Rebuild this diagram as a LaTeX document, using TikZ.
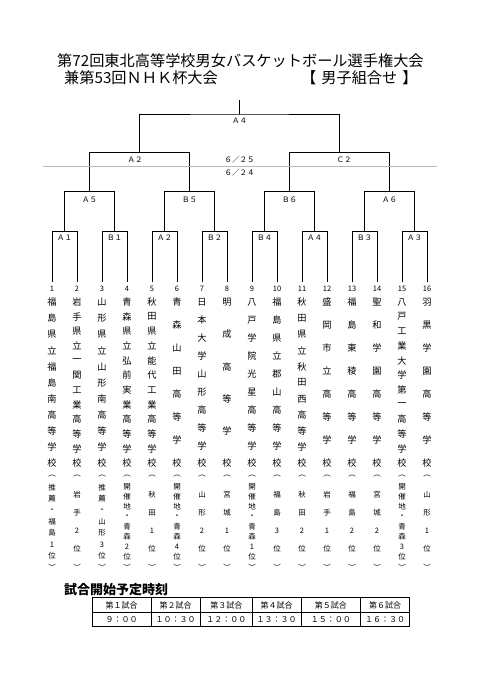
\documentclass[tikz,border=0pt]{standalone}
\usepackage{fontspec}
\setmainfont{Noto Sans CJK JP}
\usepackage{tikz}
\usetikzlibrary{positioning, calc}

% one vertical column of characters, spread from ytop to ybot
\newcommand{\vcol}[6]{%
  \foreach \ch [count=\k] in {#6} {\xdef\vcount{\k}}
  \foreach \ch [count=\k] in {#6} {
    \pgfmathsetmacro\vy{#4+(#5-#4)*(\k-1)/(\vcount-1)}
    \node[#1] (#2-\k) at (#3,\vy) {\ch};
  }
}
% number, school name and seeding note of one team
\newcommand{\team}[3]{%
  \pgfmathsetmacro\tx{52+25*(#1-1)}
  \node[numlbl] (t#1) at (\tx,289) {#1};
  \vcol{namechar}{t#1n}{\tx}{302}{463.5}{#2}
  \vcol{notechar}{t#1p}{\tx}{476.5}{567}{#3}
}

\begin{document}
\begin{tikzpicture}[x=1pt, y=-1pt, every node/.style={inner sep=0pt},
    titlefont/.style={font=\fontsize{15.2}{16}\selectfont},
    namechar/.style={font=\fontsize{9.2}{10}\selectfont},
    notechar/.style={font=\fontsize{7.5}{8}\selectfont},
    numlbl/.style={font=\fontsize{7.5}{8}\selectfont, outer sep=4.5pt},
    matchlbl/.style={font=\fontsize{7.5}{8}\selectfont},
    bracket/.style={line width=0.9pt},
    cell/.style={draw, line width=0.8pt, minimum height=14.5pt, font=\fontsize{8}{9}\selectfont}]
  \useasboundingbox (0,0) rectangle (481,680);

  % title
  \node[titlefont, anchor=west] (title1) at (57,60.7) {第72回東北高等学校男女バスケットボール選手権大会};
  \node[titlefont, anchor=west] (title2) at (64,78) {兼第53回ＮＨＫ杯大会};
  \node[titlefont, anchor=west] (title3) at (301,78) {【\hspace{5pt}男子組合せ\hspace{5pt}】};

  % teams
  \team{1}{福,島,県,立,福,島,南,高,等,学,校}{︵,推,薦,・,福,島,1,位,︶}
  \team{2}{岩,手,県,立,一,関,工,業,高,等,学,校}{︵,岩,手,2,位,︶}
  \team{3}{山,形,県,立,山,形,南,高,等,学,校}{︵,推,薦,・,山,形,3,位,︶}
  \team{4}{青,森,県,立,弘,前,実,業,高,等,学,校}{︵,開,催,地,・,青,森,2,位,︶}
  \team{5}{秋,田,県,立,能,代,工,業,高,等,学,校}{︵,秋,田,1,位,︶}
  \team{6}{青,森,山,田,高,等,学,校}{︵,開,催,地,・,青,森,4,位,︶}
  \team{7}{日,本,大,学,山,形,高,等,学,校}{︵,山,形,2,位,︶}
  \team{8}{明,成,高,等,学,校}{︵,宮,城,1,位,︶}
  \team{9}{八,戸,学,院,光,星,高,等,学,校}{︵,開,催,地,・,青,森,1,位,︶}
  \team{10}{福,島,県,立,郡,山,高,等,学,校}{︵,福,島,3,位,︶}
  \team{11}{秋,田,県,立,秋,田,西,高,等,学,校}{︵,秋,田,2,位,︶}
  \team{12}{盛,岡,市,立,高,等,学,校}{︵,岩,手,1,位,︶}
  \team{13}{福,島,東,稜,高,等,学,校}{︵,福,島,2,位,︶}
  \team{14}{聖,和,学,園,高,等,学,校}{︵,宮,城,2,位,︶}
  \team{15}{八,戸,工,業,大,学,第,一,高,等,学,校}{︵,開,催,地,・,青,森,3,位,︶}
  \team{16}{羽,黒,学,園,高,等,学,校}{︵,山,形,1,位,︶}

  % bracket joints
  \foreach \i in {1,...,8} \coordinate (r1-\i) at ({64.5+50*(\i-1)},231.7);
  \foreach \i in {1,...,4} \coordinate (r2-\i) at ({89.5+100*(\i-1)},191.7);
  \foreach \i in {1,2} \coordinate (r3-\i) at ({139.5+200*(\i-1)},152.7);
  \coordinate (r4) at (239.5,114);
  \coordinate (top) at (239.5,100);

  \foreach \i [evaluate=\i as \a using int(2*\i-1), evaluate=\i as \b using int(2*\i)] in {1,...,8}
    \draw[bracket] (t\a) |- (r1-\i) -| (t\b);
  \foreach \i [evaluate=\i as \a using int(2*\i-1), evaluate=\i as \b using int(2*\i)] in {1,...,4}
    \draw[bracket] (r1-\a) |- (r2-\i) -| (r1-\b);
  \foreach \i [evaluate=\i as \a using int(2*\i-1), evaluate=\i as \b using int(2*\i)] in {1,2}
    \draw[bracket] (r2-\a) |- (r3-\i) -| (r2-\b);
  \draw[bracket] (r3-1) |- (r4) -| (r3-2);
  \draw[bracket] (r4) -- (top);

  % match labels
  \foreach \lbl [count=\i] in {Ａ１,Ｂ１,Ａ２,Ｂ２,Ｂ４,Ａ４,Ｂ３,Ａ３}
    \node[matchlbl] (m1-\i) at ([yshift=-5.6pt]r1-\i) {\lbl};
  \foreach \lbl [count=\i] in {Ａ５,Ｂ５,Ｂ６,Ａ６}
    \node[matchlbl] (m2-\i) at ([yshift=-7.6pt]r2-\i) {\lbl};
  \node[matchlbl] (m3-1) at ([xshift=-4.5pt,yshift=-7.3pt]r3-1) {Ａ２};
  \node[matchlbl] (m3-2) at ([xshift=4.5pt,yshift=-7.3pt]r3-2) {Ｃ２};
  \node[matchlbl] (m4) at ([yshift=-6.7pt]r4) {Ａ４};

  % days
  \draw[gray!55, line width=0.4pt] (43,166) -- (437,166);
  \node[matchlbl] (d25) at (239.5,160) {６／２５};
  \node[matchlbl] (d24) at (239.5,172.7) {６／２４};

  % start times
  \node[font=\bfseries\fontsize{13}{14}\selectfont, anchor=west] (sched) at (64,590) {試合開始予定時刻};
  \foreach \xa/\xb/\hd/\tm [count=\c] in {92.3/151/第１試合/９：００, 151/200.3/第２試合/１０：３０,
      200.3/252.3/第３試合/１２：００, 252.3/301/第４試合/１３：３０,
      301/360.7/第５試合/１５：００, 360.7/409.3/第６試合/１６：３０} {
    \node[cell, minimum width={\xb-\xa}] (h\c) at ({(\xa+\xb)/2},605) {\hd};
    \node[cell, minimum width={\xb-\xa}] (s\c) at ({(\xa+\xb)/2},619.5) {\tm};
  }
\end{tikzpicture}
\end{document}
